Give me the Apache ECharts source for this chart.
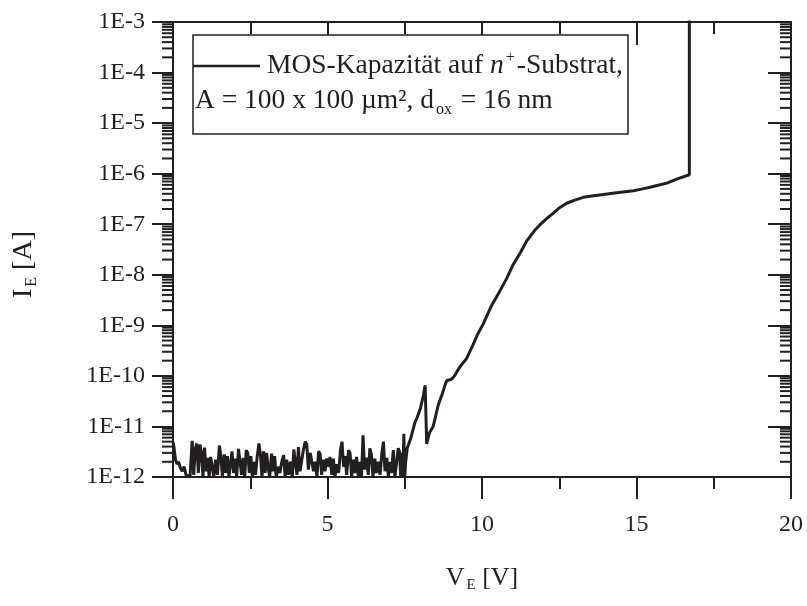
<!DOCTYPE html>
<html>
<head>
<meta charset="utf-8">
<script src="https://cdn.jsdelivr.net/npm/echarts@6/dist/echarts.min.js"></script>
<style>
  html, body { margin: 0; padding: 0; background: #fff; }
  #chart { width: 807px; height: 606px; }
</style>
</head>
<body>
<div id="chart"></div>
<script>
// noisy floor below 7.5 V (A)
var noiseV = [0.00,0.03,0.08,0.13,0.18,0.24,0.30,0.36,0.42,0.48,0.55,0.62,0.67,0.72,0.77,0.82,0.87,0.92,0.97,1.02,
  1.07,1.12,1.17,1.22,1.27,1.32,1.38,1.44,1.50,1.55,1.60,1.66,1.71,1.76,1.81,1.86,1.91,1.96,2.01,2.06,
  2.12,2.17,2.22,2.27,2.32,2.37,2.42,2.47,2.52,2.57,2.62,2.67,2.72,2.78,2.83,2.88,2.93,2.98,3.03,3.08,
  3.13,3.19,3.24,3.29,3.34,3.40,3.46,3.52,3.58,3.63,3.68,3.74,3.80,3.86,3.91,3.96,4.01,4.06,4.11,4.17,
  4.22,4.28,4.33,4.38,4.44,4.50,4.55,4.60,4.66,4.71,4.76,4.81,4.86,4.92,4.97,5.03,5.08,5.14,5.19,5.24,
  5.30,5.36,5.42,5.47,5.52,5.57,5.62,5.68,5.73,5.78,5.84,5.89,5.94,6.00,6.05,6.10,6.15,6.20,6.26,6.32,
  6.37,6.42,6.47,6.53,6.58,6.64,6.70,6.76,6.81,6.86,6.92,6.97,7.02,7.07,7.13,7.18,7.23,7.29,7.33,7.37,
  7.40,7.44,7.47,7.50,7.53];
var noiseI = [5e-12,4e-12,2.2e-12,1.8e-12,2.0e-12,1.5e-12,1.3e-12,1.6e-12,1.1e-12,1.2e-12,1.0e-12,5.2e-12,1.1e-12,3.6e-12,4.6e-12,1.2e-12,4.4e-12,3.0e-12,1.0e-12,3.8e-12,
  1.3e-12,2.4e-12,1.0e-12,2.5e-12,1.6e-12,1.0e-12,2.2e-12,1.1e-12,4.2e-12,2.6e-12,1.0e-12,2.8e-12,1.2e-12,2.6e-12,1.0e-12,1.8e-12,3.2e-12,1.2e-12,2.3e-12,1.0e-12,
  3.6e-12,3.3e-12,1.1e-12,2.4e-12,1.0e-12,3.4e-12,3.0e-12,1.2e-12,2.6e-12,1.0e-12,2.0e-12,1.1e-12,2.4e-12,4.6e-12,2.8e-12,1.0e-12,3.2e-12,1.2e-12,3.0e-12,1.5e-12,
  1.0e-12,2.9e-12,1.3e-12,2.6e-12,1.0e-12,1.6e-12,1.2e-12,2.0e-12,2.7e-12,1.0e-12,2.2e-12,1.1e-12,2.0e-12,1.0e-12,3.5e-12,3.7e-12,1.1e-12,3.9e-12,1.3e-12,2.2e-12,
  3.4e-12,5.0e-12,4.4e-12,1.4e-12,3.0e-12,3.2e-12,1.3e-12,2.0e-12,1.0e-12,3.2e-12,2.9e-12,1.1e-12,2.2e-12,1.3e-12,2.3e-12,1.6e-12,2.5e-12,1.1e-12,2.3e-12,1.0e-12,
  1.8e-12,1.2e-12,3.4e-12,5.0e-12,1.6e-12,2.6e-12,1.1e-12,3.4e-12,3.0e-12,1.0e-12,2.2e-12,1.2e-12,2.5e-12,1.0e-12,2.0e-12,1.0e-12,6.7e-12,1.4e-12,2.4e-12,1.1e-12,
  3.7e-12,2.8e-12,1.0e-12,2.3e-12,1.2e-12,2.0e-12,1.1e-12,3.0e-12,5.0e-12,1.3e-12,2.4e-12,1.0e-12,2.0e-12,1.2e-12,3.4e-12,1.0e-12,1.0e-12,3.7e-12,3.2e-12,1.0e-12,
  3.0e-12,1.0e-12,7.2e-12,1.0e-12,2.0e-12];

// rise, plateau and breakdown (A)
var riseV = [7.58,7.70,7.83,7.90,8.00,8.10,8.16,8.21,8.30,8.42,8.50,8.58,8.64,8.72,8.80,8.86,8.92,9.00,9.07,9.15,
  9.25,9.35,9.50,9.70,9.85,10.04,10.30,10.58,10.80,11.01,11.25,11.45,11.70,11.88,12.10,12.31,12.50,12.74,13.00,13.28,
  13.55,13.82,14.10,14.36,14.63,14.90,15.20,15.44,15.70,15.98,16.30,16.71,16.71];
var riseI = [3.7e-12,6.0e-12,1.2e-11,1.5e-11,2.2e-11,4.0e-11,6.5e-11,4.5e-12,7.5e-12,1.0e-11,1.6e-11,2.6e-11,3.3e-11,4.5e-11,6.5e-11,8.1e-11,7.5e-11,8.5e-11,9.3e-11,1.1e-10,
  1.4e-10,1.7e-10,2.2e-10,4.0e-10,6.5e-10,1.07e-9,2.4e-9,4.8e-9,8.5e-9,1.6e-8,2.8e-8,4.7e-8,7.5e-8,9.8e-8,1.3e-7,1.66e-7,2.1e-7,2.6e-7,3.0e-7,3.4e-7,
  3.6e-7,3.8e-7,4.0e-7,4.2e-7,4.4e-7,4.6e-7,5.0e-7,5.4e-7,5.9e-7,6.5e-7,7.8e-7,9.5e-7,1e-2];

var xTicks = { min: 0, max: 20, interval: 5 };
var yDecades = { min: 1e-12, max: 1e-3 };

var serif = 'Liberation Serif';
var ink = '#231f20';

var curve = [];
noiseV.forEach(function (v, i) { curve.push([v, noiseI[i]]); });
riseV.forEach(function (v, i) { curve.push([v, riseI[i]]); });

// log minor ticks 2..9 in each decade
var minorVals = [];
for (var e = -12; e < -3; e++) {
  for (var m = 2; m <= 9; m++) minorVals.push([0, m * Math.pow(10, e)]);
}

var myChart = echarts.init(document.getElementById('chart'));

function xAxisOf(pos) {
  var top = pos === 'top';
  return {
    type: 'value', position: pos,
    min: xTicks.min, max: xTicks.max, interval: xTicks.interval,
    axisLine: { show: true, onZero: false, lineStyle: { color: ink, width: 2 } },
    axisTick: { show: true, inside: top, length: top ? 23 : 22, lineStyle: { color: ink, width: 2 } },
    minorTick: { show: true, splitNumber: 2, length: 12, lineStyle: { color: ink, width: 2 } },
    splitLine: { show: false },
    axisLabel: { show: !top, margin: 36, fontSize: 24, fontFamily: serif, color: ink },
    name: top ? '' : '{m|V}{s|E}{m| [V]}',
    nameLocation: 'middle',
    nameGap: 86,
    nameTextStyle: {
      rich: {
        m: { fontSize: 26, fontFamily: serif, color: ink, lineHeight: 30, verticalAlign: 'middle' },
        s: { fontSize: 15, fontFamily: serif, color: ink, padding: [14, 0, 0, 2], verticalAlign: 'middle' }
      }
    }
  };
}

function yAxisOf(pos) {
  var right = pos === 'right';
  return {
    type: 'log', logBase: 10, position: pos,
    min: yDecades.min, max: yDecades.max, interval: 1,
    axisLine: { show: true, onZero: false, lineStyle: { color: ink, width: 2 } },
    axisTick: { show: true, inside: right, length: right ? 23 : 21, lineStyle: { color: ink, width: 2 } },
    minorTick: { show: false },
    splitLine: { show: false },
    axisLabel: {
      show: !right, margin: 28, fontSize: 24, fontFamily: serif, color: ink,
      formatter: function (v) { return '1E' + Math.round(Math.log10(v)); }
    },
    name: right ? '' : '{m|I}{s|E}{m| [A]}',
    nameLocation: 'middle',
    nameGap: 133,
    nameRotate: 90,
    nameTextStyle: {
      padding: [0, 30, 0, 0],
      rich: {
        m: { fontSize: 28, fontFamily: serif, color: ink, lineHeight: 32, verticalAlign: 'middle' },
        s: { fontSize: 16, fontFamily: serif, color: ink, padding: [15, 0, 0, 2], verticalAlign: 'middle' }
      }
    }
  };
}

var option = {
  backgroundColor: '#fff',
  animation: false,
  grid: { left: 173, right: 16, top: 22, bottom: 129, containLabel: false },
  xAxis: [xAxisOf('bottom'), xAxisOf('top')],
  yAxis: [yAxisOf('left'), yAxisOf('right')],
  graphic: [
    { type: 'rect', shape: { x: 193, y: 35, width: 435, height: 99 },
      style: { fill: '#fff', stroke: ink, lineWidth: 1.5 }, z: 10 },
    { type: 'line', shape: { x1: 193, y1: 66, x2: 260, y2: 66 },
      style: { stroke: ink, lineWidth: 2.5 }, z: 11 },
    { type: 'text', x: 267, y: 66, z: 11,
      style: {
        text: '{m|MOS-Kapazität auf }{i|n}{p|+}{m|-Substrat,}',
        verticalAlign: 'middle',
        rich: {
          m: { fontSize: 27.5, fontFamily: serif, fill: ink, lineHeight: 30 },
          i: { fontSize: 27.5, fontFamily: serif, fontStyle: 'italic', fill: ink, lineHeight: 30 },
          p: { fontSize: 16, fontFamily: serif, fill: ink, padding: [0, 2, 17, 2] }
        }
      } },
    { type: 'text', x: 195, y: 101, z: 11,
      style: {
        text: '{m|A = 100 x 100 µm², d}{s|ox}{m| = 16 nm}',
        verticalAlign: 'middle',
        rich: {
          m: { fontSize: 27.5, fontFamily: serif, fill: ink, lineHeight: 30 },
          s: { fontSize: 16, fontFamily: serif, fill: ink, padding: [17, 2, 0, 2] }
        }
      } }
  ],
  series: [
    {
      type: 'line', name: 'MOS-Kapazität',
      xAxisIndex: 0, yAxisIndex: 0,
      data: curve,
      showSymbol: false, symbol: 'none',
      clip: true,
      lineStyle: { color: ink, width: 3 },
      z: 5
    },
    {
      type: 'custom', silent: true,
      xAxisIndex: 0, yAxisIndex: 0,
      data: minorVals,
      encode: { x: 0, y: 1 },
      clip: false,
      renderItem: function (params, api) {
        var v = api.value(1);
        var pl = api.coord([xTicks.min, v]);
        var pr = api.coord([xTicks.max, v]);
        var st = { stroke: ink, lineWidth: 2 };
        return {
          type: 'group',
          children: [
            { type: 'line', shape: { x1: pl[0] - 11, y1: pl[1], x2: pl[0], y2: pl[1] }, style: st },
            { type: 'line', shape: { x1: pr[0] - 11, y1: pr[1], x2: pr[0], y2: pr[1] }, style: st }
          ]
        };
      }
    }
  ]
};
myChart.setOption(option);
</script>
</body>
</html>
